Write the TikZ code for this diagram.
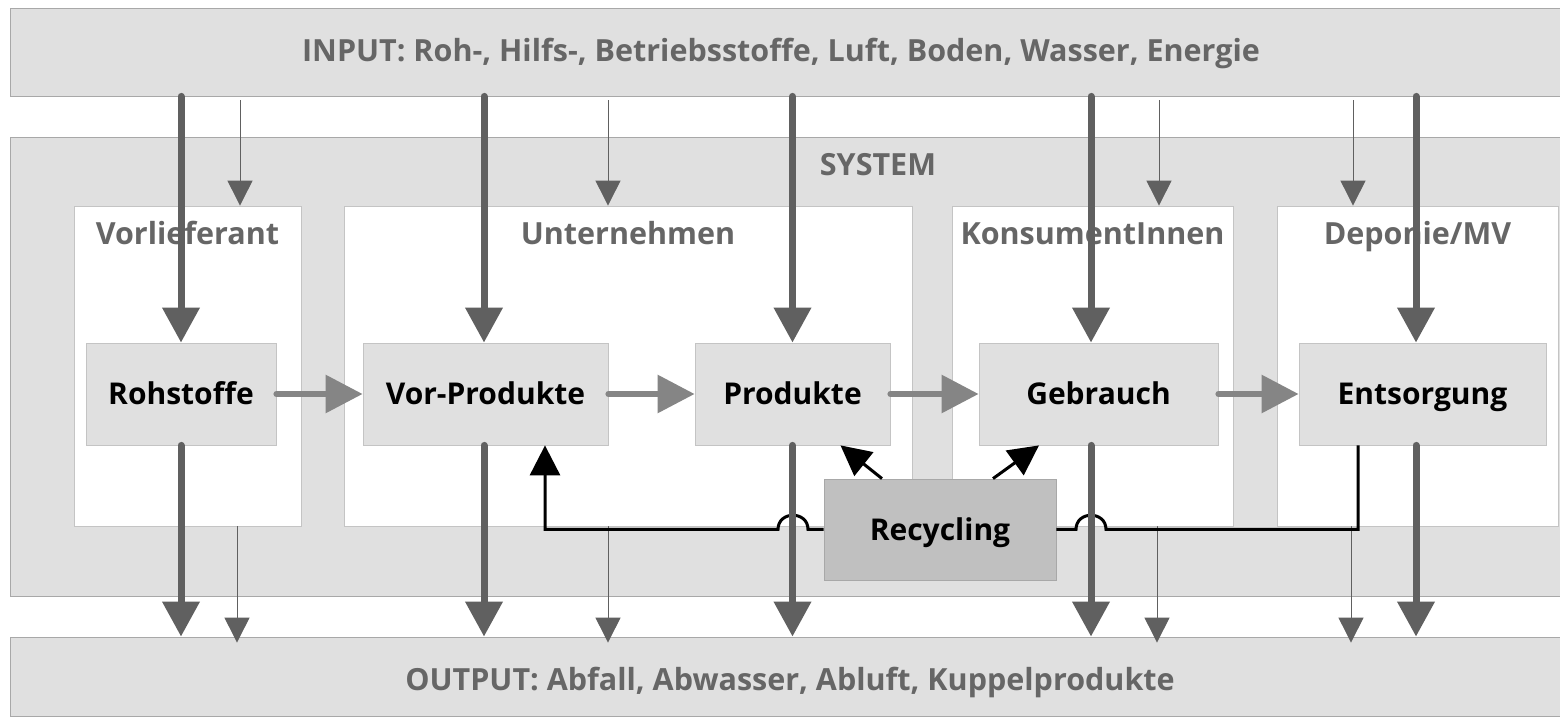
\documentclass[tikz,border=0pt]{standalone}
\usepackage{fontspec}
\setmainfont{Open Sans}
\usetikzlibrary{arrows.meta, calc, positioning}

\definecolor{bandgray}{HTML}{E0E0E0}
\definecolor{edgegray}{HTML}{A8A8A8}
\definecolor{boxedge}{HTML}{C4C4C4}
\definecolor{arrowgray}{HTML}{606060}
\definecolor{flowgray}{HTML}{858585}
\definecolor{labelgray}{HTML}{666666}
\definecolor{recyfill}{HTML}{C0C0C0}

\tikzset{
  band/.style={draw=edgegray, fill=bandgray, minimum width=776pt, inner sep=0pt},
  bandtext/.style={text=labelgray, font=\fontsize{15.25}{18}\selectfont\bfseries,
    inner sep=0pt, text height=10.8pt, text depth=0pt},
  stage/.style={draw=boxedge, fill=white, minimum height=160pt, inner sep=0pt},
  proc/.style={draw=boxedge, fill=bandgray, minimum height=51pt, inner sep=0pt,
    text height=10.7pt, text depth=0pt, font=\fontsize{15}{18}\selectfont\bfseries},
  thickarrow/.style={draw=arrowgray, line width=3.5pt, line cap=round,
    -{Triangle[width=18pt, length=17.5pt]}},
  thinarrow/.style={draw=arrowgray, line width=0.5pt,
    -{Triangle[width=12.5pt, length=12.5pt]}},
  flowarrow/.style={draw=flowgray, line width=3pt, line cap=round,
    -{Triangle[width=18.5pt, length=18.5pt]}},
  recyline/.style={draw=black, line width=1.5pt},
  recyarrow/.style={recyline, -{Triangle[width=15pt, length=15pt]}}
}

\begin{document}
\begin{tikzpicture}[x=0.5pt, y=-0.5pt]
  \useasboundingbox (0,0) rectangle (1560,721);
  \fill[white] (0,0) rectangle (1560,721);

  \node[band, minimum height=44pt] (input) at (786,52) {};
  \node[bandtext] (inputlbl) at (781,50.5) {INPUT: Roh-, Hilfs-, Betriebsstoffe, Luft, Boden, Wasser, Energie};
  \node[band, minimum height=229.5pt] (system) at (786,366.5) {};
  \node[bandtext] (systemlbl) at (878,165) {SYSTEM};
  \node[band, minimum height=39.5pt] (output) at (786,676.5) {};
  \node[bandtext] (outputlbl) at (790,680) {OUTPUT: Abfall, Abwasser, Abluft, Kuppelprodukte};

  \node[stage, minimum width=113.5pt] (vorl) at (187.5,366) {};
  \node[stage, minimum width=284pt] (unt) at (628,366) {};
  \node[stage, minimum width=140.5pt] (kons) at (1092.5,366) {};
  \node[stage, minimum width=140.5pt] (depo) at (1417.5,366) {};
  \node[bandtext] (vorllbl) at ([yshift=-14pt]vorl.north) {Vorlieferant};
  \node[bandtext] (untlbl) at ([yshift=-14pt]unt.north) {Unternehmen};
  \node[bandtext] (konslbl) at ([yshift=-14pt]kons.north) {KonsumentInnen};
  \node[bandtext] (depolbl) at ([yshift=-14pt]depo.north) {Deponie/MV};

  \node[proc, minimum width=95pt] (roh) at (181,394) {Rohstoffe};
  \node[proc, minimum width=122.5pt] (vorp) at (485.5,394) {Vor-Produkte};
  \node[proc, minimum width=97.5pt] (prod) at (792.5,394) {Produkte};
  \node[proc, minimum width=119.5pt] (geb) at (1098.5,394) {Gebrauch};
  \node[proc, minimum width=123.5pt] (ents) at (1422.5,394) {Entsorgung};
  \node[proc, fill=recyfill, draw=edgegray, minimum width=116pt, minimum height=50.5pt] (recy) at (940,529.5) {Recycling};

  \draw[flowarrow] (roh.east) -- (vorp.west);
  \draw[flowarrow] (vorp.east) -- (prod.west);
  \draw[flowarrow] (prod.east) -- (geb.west);
  \draw[flowarrow] (geb.east) -- (ents.west);

  \foreach \xi/\xo/\st in {240/237/vorl, 608/608/unt, 1159/1157/kons, 1353/1351/depo}{
    \coordinate (ti) at (\xi,0);
    \coordinate (to) at (\xo,0);
    \draw[thinarrow] ($(input.south -| ti)+(0,4)$) -- (\st.north -| ti);
    \draw[thinarrow] (\st.south -| to) -- ($(output.north -| to)+(0,6)$);
  }

  \coordinate (retL) at (545,0);
  \coordinate (retR) at (1358,0);
  \coordinate (hopL) at (793,529.5);
  \coordinate (hopR) at (1091,529.5);
  \draw[recyarrow] (recy.west) -- ($(hopL)+(15,0)$)
    .. controls ($(hopL)+(15,-19)$) and ($(hopL)+(-15,-19)$) .. ($(hopL)+(-15,0)$)
    -- (recy.west -| retL) -- (vorp.south -| retL);
  \draw[recyline] (recy.east) -- ($(hopR)+(-15,0)$)
    .. controls ($(hopR)+(-15,-19)$) and ($(hopR)+(15,-19)$) .. ($(hopR)+(15,0)$)
    -- (recy.east -| retR) -- (ents.south -| retR);
  \draw[recyarrow] ([xshift=-29pt]recy.north) -- ([xshift=24pt]prod.south);
  \draw[recyarrow] ([xshift=26.5pt]recy.north) -- ([xshift=-29.75pt]geb.south);

  \foreach \bx/\dx in {roh/0, vorp/-0.75, prod/0, geb/-3.75, ents/-3.25}{
    \coordinate (tk) at ([xshift=\dx pt]\bx.north);
    \coordinate (tb) at ([xshift=\dx pt]\bx.south);
    \draw[thickarrow] (input.south -| tk) -- (tk);
    \draw[thickarrow] (tb) -- (output.north -| tb);
  }
\end{tikzpicture}
\end{document}
